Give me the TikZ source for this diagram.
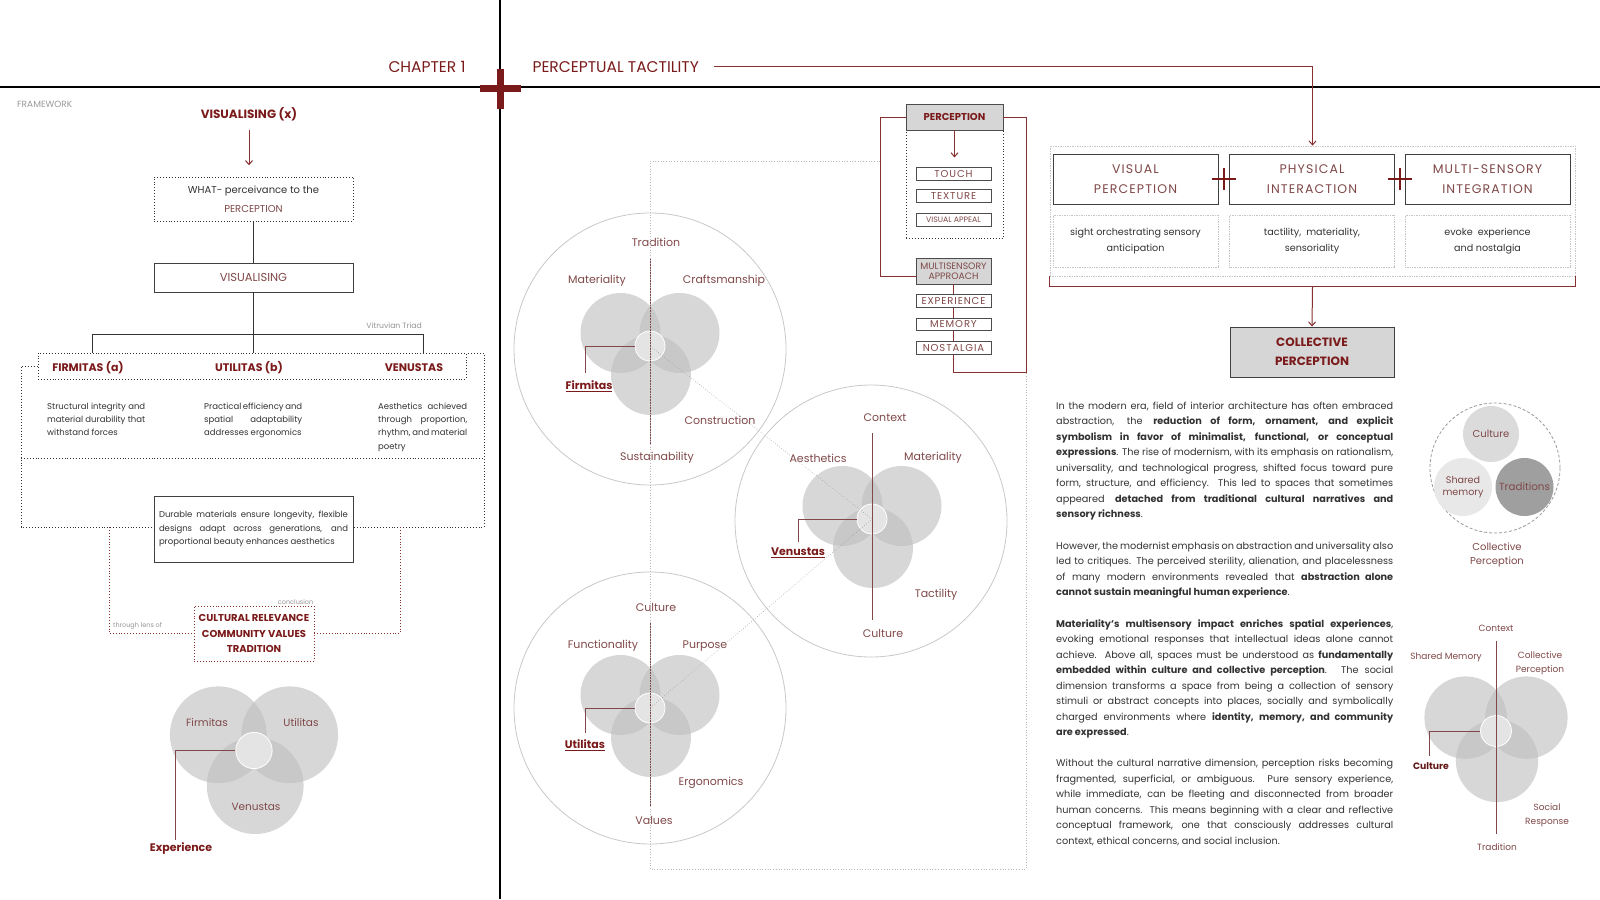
\documentclass[tikz,border=0pt]{standalone}
\usepackage{fontspec}
\setmainfont{Poppins}
\newfontfamily\spacedfont[LetterSpace=9]{Poppins}
\usetikzlibrary{arrows.meta,calc,positioning}

\definecolor{maroon}{RGB}{122,26,26}
\definecolor{linered}{RGB}{135,48,48}
\definecolor{softred}{RGB}{128,72,72}
\definecolor{bodygray}{RGB}{50,50,50}
\definecolor{ringgray}{RGB}{200,200,200}
\definecolor{lensgray}{RGB}{189,189,189}
\definecolor{coregray}{RGB}{228,228,228}
\definecolor{boxgray}{RGB}{214,214,214}

\newcommand{\fs}[2]{\fontsize{#1}{#2}\selectfont}

\tikzset{
  redline/.style={draw=linered, line width=1pt},
  redarrow/.style={redline, -{Straight Barb[length=4pt,width=7pt]}},
  treeline/.style={draw=black!80, line width=0.9pt},
  dotbox/.style={draw=black!80, dotted, line width=0.9pt},
  reddots/.style={draw=linered, dotted, line width=0.9pt},
  frameline/.style={draw=gray!55, dotted, line width=0.7pt},
  lightdots/.style={draw=gray!45, densely dotted, line width=0.7pt},
  solidbox/.style={draw=black!75, line width=0.9pt, fill=white},
  headred/.style={font=\bfseries\fs{11}{13}, text=maroon},
  titletext/.style={font=\fs{15.5}{17}, text=maroon},
  smallgray/.style={font=\fs{6.5}{8}, text=gray!85},
  desc/.style={font=\fs{8.5}{13.4}, text=bodygray, align=justify, inner sep=0pt, anchor=base west},
  para/.style={font=\fs{9.7}{15.5}, text=bodygray, text width=337pt, align=justify, inner sep=0pt, anchor=base west},
  ring/.style={draw=ringgray, line width=0.8pt},
  vennpart/.style={fill=lensgray, fill opacity=0.6},
  core/.style={circle, draw=white, line width=0.8pt, fill=coregray, inner sep=0pt},
  axisline/.style={draw=softred, line width=0.9pt},
  diagline/.style={draw=gray!75, dotted, line width=0.6pt},
  catlabel/.style={font=\fs{11}{13}, text=softred},
  keylabel/.style={font=\bfseries\fs{11}{13}, text=maroon},
  tagbox/.style={draw=black!70, line width=0.7pt, fill=white, minimum width=75pt, minimum height=12.5pt, inner sep=0pt, font=\spacedfont\fs{10}{10}, text=softred},
  pillar/.style={solidbox, minimum width=165pt, minimum height=50pt, align=center, font=\spacedfont\fs{12.5}{20}, text=softred},
  notebox/.style={lightdots, minimum width=165pt, minimum height=52pt, align=center, font=\fs{9.6}{16}, text=bodygray},
  crossline/.style={draw=maroon, line width=1.5pt},
}

% three overlapping lenses and their core
\newcommand{\venntrio}[4]{%
  \begin{scope}[shift={(#2,#3)}, scale=#4]
    \fill[vennpart] (-29.5,-13) circle[radius=40];
    \fill[vennpart] (29.5,-13) circle[radius=40];
    \fill[vennpart] (1,29) circle[radius=40];
  \end{scope}
  \node[core, minimum size=30*#4] (#1) at (#2,#3) {};
}

\begin{document}
\begin{tikzpicture}[x=1pt, y=-1pt]
\useasboundingbox (0,0) rectangle (1600,899);

% page rules and the title cross
\draw[line width=1.8pt] (0,87) -- (1600,87);
\draw[line width=1.8pt] (500,0) -- (500,899);
\fill[maroon] (480,84.5) rectangle (521,91.5);
\fill[maroon] (496.5,69) rectangle (503.5,109);
\node[titletext, anchor=east] (chap) at (469,67) {CHAPTER 1};
\node[titletext, anchor=west] (ptt) at (529,67) {PERCEPTUAL TACTILITY};

% ---------- left panel: framework ----------
\node[font=\fs{9}{10}, text=gray!80, anchor=west, inner sep=0pt] (fw) at (17,104) {FRAMEWORK};
\node[headred, font=\bfseries\fs{12}{14}] (visx) at (249,114) {VISUALISING (x)};
\draw[redarrow] ([yshift=-6pt]visx.south) -- ++(0,35);
\node[dotbox, minimum width=199pt, minimum height=44pt, align=center, font=\fs{10}{19}, text=bodygray] (what) at (253.5,199)
  {WHAT- perceivance to the\\\textcolor{softred}{PERCEPTION}};
\node[solidbox, minimum width=199pt, minimum height=29pt, font=\fs{11.5}{13}, text=softred] (vis) at (253.5,277.5) {VISUALISING};
\draw[treeline] (what.south) -- (vis.north);

\node[dotbox, minimum width=428pt, minimum height=26pt] (heads) at (252,366) {};
\node[headred] (firm) at (88,368) {FIRMITAS (a)};
\node[headred] (util) at (249,368) {UTILITAS (b)};
\node[headred] (venu) at (414,368) {VENUSTAS};
\coordinate (bl) at (92,334);
\coordinate (br) at (423,334);
\draw[treeline] (vis.south) -- (vis.south |- heads.north);
\draw[treeline] (bl |- heads.north) -- (bl) -- (br) -- (br |- heads.north);
\node[smallgray, font=\fs{7.7}{9}, anchor=south east, inner sep=1pt] (triad) at (423,330) {Vitruvian Triad};

% outer dotted frame
\draw[dotbox] (heads.west |- 0,366) -- (21,366) -- (21,527) -- (484,527) -- (484,353) -- (heads.east |- 0,353);
\draw[dotbox] (21,458) -- (484,458);

\node[desc, text width=98pt] (d1) at (47,409) {Structural integrity and\linebreak material durability that\linebreak withstand forces};
\node[desc, text width=98pt] (d2) at (204,409) {Practical efficiency and\linebreak spatial adaptability\linebreak addresses ergonomics};
\node[desc, text width=89pt] (d3) at (378,409) {Aesthetics achieved\linebreak through proportion,\linebreak rhythm, and material\linebreak poetry};

\node[solidbox, text width=189pt, inner sep=5pt, minimum height=66pt, align=justify, font=\fs{8.5}{13.5}, text=bodygray] (dur) at (253.5,529)
  {\hyphenpenalty=10000 Durable materials ensure longevity, flexible\linebreak designs adapt across generations, and\linebreak proportional beauty enhances aesthetics};

\node[reddots, minimum width=120pt, minimum height=55pt, align=center, font=\bfseries\fs{10}{15.5}, text=maroon] (cult) at (254,633.5)
  {CULTURAL RELEVANCE\\COMMUNITY VALUES\\TRADITION};
\coordinate (lensl) at (109,527);
\coordinate (lensr) at (400,527);
\draw[reddots] (lensl) |- (cult.west);
\draw[reddots] (lensr) |- (cult.east);
\node[smallgray, anchor=base west, inner sep=0pt] (lens) at (113,627) {through lens of};
\node[smallgray, anchor=south east, inner sep=1pt] (concl) at (cult.north east) {conclusion};

% vitruvian venn
\venntrio{ecore}{254}{750.5}{1.21}
\node[catlabel, font=\fs{10.5}{12}] (ef) at (207,723) {Firmitas};
\node[catlabel, font=\fs{10.5}{12}] (eu) at (301,723) {Utilitas};
\node[catlabel, font=\fs{10.5}{12}] (ev) at (256,807) {Venustas};
\node[keylabel] (exp) at (181,849) {Experience};
\draw[axisline] (ecore.west) -| ([xshift=-6pt]exp.north);

% ---------- middle panel ----------
\draw[ring] (650,349) circle[radius=136];
\draw[ring] (871,521) circle[radius=136];
\draw[ring] (650,708) circle[radius=136];
\venntrio{fcore}{650}{346}{1}
\venntrio{vcore}{872}{519}{1}
\venntrio{ucore}{650}{708}{1}

% firmitas
\node[catlabel] (ftop) at (656,242) {Tradition};
\node[catlabel] (fl) at (597,281) {Materiality};
\node[catlabel] (fr) at (724,281) {Craftsmanship};
\node[keylabel] (fkey) at (589,386) {\underline{Firmitas}};
\node[catlabel] (fc) at (720,420) {Construction};
\node[catlabel] (fbot) at (657,458) {Sustainability};
% venustas
\node[catlabel] (vtop) at (885,418) {Context};
\node[catlabel] (vl) at (818,458) {Aesthetics};
\node[catlabel] (vr) at (933,458) {Materiality};
\node[keylabel] (vkey) at (798,553) {\underline{Venustas}};
\node[catlabel] (vt) at (936,595) {Tactility};
\node[catlabel] (vbot) at (883,633) {Culture};
% utilitas
\node[catlabel] (utop) at (656,607) {Culture};
\node[catlabel] (ul) at (603,646) {Functionality};
\node[catlabel] (ur) at (705,646) {Purpose};
\node[keylabel] (ukey) at (585,745) {\underline{Utilitas}};
\node[catlabel] (ue) at (711,783) {Ergonomics};
\node[catlabel] (ubot) at (654,820) {Values};

\draw[axisline, shorten <=8pt, shorten >=5pt] (ftop.south -| fcore) -- (fbot.north -| fcore);
\draw[axisline, shorten <=8pt, shorten >=5pt] (vtop.south -| vcore) -- (vbot.north -| vcore);
\draw[axisline, shorten <=8pt, shorten >=5pt] (utop.south -| ucore) -- (ubot.north -| ucore);
\draw[axisline, shorten >=4pt] (fcore.west) -| ([xshift=-4pt]fkey.north);
\draw[axisline, shorten >=3pt] (vcore.west) -| (vkey.north);
\draw[axisline, shorten >=3pt] (ucore.west) -| (ukey.north);
\draw[diagline] (fcore.center) -- (vcore.center) -- (ucore.center);

% perception column
\node[dotbox, minimum width=97pt, minimum height=108pt] (sens) at (954.5,184) {};
\node[draw=black!70, line width=0.9pt, fill=boxgray, minimum width=97pt, minimum height=26pt, font=\bfseries\fs{10}{11}, text=maroon] (perc) at (954.5,117) {PERCEPTION};
\draw[redarrow] (perc.south) -- ++(0,27);
\node[tagbox] (touch) at (953.5,174) {TOUCH};
\node[tagbox] (texture) at (953.5,196) {TEXTURE};
\node[tagbox, font=\fs{7.8}{8}] (appeal) at (953.5,220) {VISUAL APPEAL};
\node[tagbox, fill=boxgray, minimum height=26pt, align=center, font=\fs{9.3}{10.5}] (multi) at (953.5,271) {MULTISENSORY\\APPROACH};
\node[tagbox] (exper) at (953.5,301) {EXPERIENCE};
\node[tagbox] (memory) at (953.5,324.5) {MEMORY};
\node[tagbox] (nostal) at (953.5,348) {NOSTALGIA};
\draw[redline] (multi.south) -- (exper.north);
\draw[redline] (exper.south) -- (memory.north);
\draw[redline] (memory.south) -- (nostal.north);
\coordinate (loopl) at (880,117);
\coordinate (loopr) at (1026,372);
\draw[redline] (perc.west) -- (loopl) |- ([yshift=-5pt]multi.west);
\draw[redline] (perc.east) -| (loopr) -| (nostal.south);
\draw[frameline] (loopl |- 0,161) -- (650,161) -- (650,869) -- (1026,869) -- (loopr);

% ---------- right panel ----------
\node[lightdots, minimum width=525pt, minimum height=130pt] (rsec) at (1312.5,211) {};
\draw[redarrow] ([xshift=12pt]ptt.east) -| (rsec.north);
\node[pillar] (pvis) at (1135.5,179) {VISUAL\\PERCEPTION};
\node[pillar] (pphy) at (1312,179) {PHYSICAL\\INTERACTION};
\node[pillar] (pmul) at (1487.5,179) {MULTI-SENSORY\\INTEGRATION};
\node[notebox] (nvis) at (1135.5,241) {sight orchestrating sensory\\anticipation};
\node[notebox] (nphy) at (1312,241) {tactility,~ materiality,\\sensoriality};
\node[notebox] (nmul) at (1487.5,241) {evoke~ experience\\and nostalgia};
\coordinate (plus1) at ($(pvis.east)!0.5!(pphy.west)$);
\coordinate (plus2) at ($(pphy.east)!0.5!(pmul.west)$);
\draw[crossline] ($(plus1)+(-12,0)$) -- ($(plus1)+(12,0)$);
\draw[crossline] ($(plus1)+(0,-11)$) -- ($(plus1)+(0,11)$);
\draw[crossline] ($(plus2)+(-12,0)$) -- ($(plus2)+(12,0)$);
\draw[crossline] ($(plus2)+(0,-11)$) -- ($(plus2)+(0,11)$);

\node[solidbox, fill=boxgray, minimum width=164pt, minimum height=50pt, align=center, font=\bfseries\fs{12}{19}, text=maroon] (coll) at (1312,352) {COLLECTIVE\\PERCEPTION};
\draw[redline] (rsec.south west) -- ++(0,10) -| (rsec.south east);
\coordinate (rsmid) at ($(rsec.south)+(0,10)$);
\draw[redarrow] (rsmid) -- (coll.north);

% text column
\node[para] (para1) at (1056,409) {In the modern era, field of interior architecture has often embraced\linebreak
abstraction, the \textbf{reduction of form, ornament, and explicit}\linebreak
\textbf{symbolism in favor of minimalist, functional, or conceptual}\linebreak
\textbf{expressions}. The rise of modernism, with its emphasis on rationalism,\linebreak
universality, and technological progress, shifted focus toward pure\linebreak
form, structure, and efficiency. This led to spaces that sometimes\linebreak
appeared \textbf{detached from traditional cultural narratives and}\linebreak
\textbf{sensory richness}.};
\node[para] (para2) at (1056,549) {However, the modernist emphasis on abstraction and universality also\linebreak
led to critiques. The perceived sterility, alienation, and placelessness\linebreak
of many modern environments revealed that \textbf{abstraction alone}\linebreak
\textbf{cannot sustain meaningful human experience}.};
\node[para] (para3) at (1056,627.3) {\textbf{Materiality's multisensory impact enriches spatial experiences},\linebreak
evoking emotional responses that intellectual ideas alone cannot\linebreak
achieve. Above all, spaces must be understood as \textbf{fundamentally}\linebreak
\textbf{embedded within culture and collective perception}. The social\linebreak
dimension transforms a space from being a collection of sensory\linebreak
stimuli or abstract concepts into places, socially and symbolically\linebreak
charged environments where \textbf{identity, memory, and community}\linebreak
\textbf{are expressed}.};
\node[para] (para4) at (1056,766.7) {Without the cultural narrative dimension, perception risks becoming\linebreak
fragmented, superficial, or ambiguous. Pure sensory experience,\linebreak
while immediate, can be fleeting and disconnected from broader\linebreak
human concerns. This means beginning with a clear and reflective\linebreak
conceptual framework, one that consciously addresses cultural\linebreak
context, ethical concerns, and social inclusion.};

% collective perception cluster
\draw[draw=gray!80, densely dashed, line width=0.8pt] (1495,468) circle[radius=65];
\node[circle, fill=gray!28, minimum size=56pt, inner sep=0pt, font=\fs{10}{11}, text=softred] (cculture) at (1491,434) {Culture};
\node[circle, fill=gray!18, minimum size=58pt, inner sep=0pt, align=center, font=\fs{9.6}{12}, text=softred] (cshared) at (1463,487) {Shared\\memory};
\node[circle, fill=gray!75, minimum size=58pt, inner sep=0pt, font=\fs{10.3}{11}, text=softred] (ctrad) at (1524.5,487) {Traditions};
\node[catlabel, align=center, font=\fs{10}{14}] (cpcap) at (1497,555) {Collective\\Perception};

% social venn
\venntrio{rcore}{1496}{731}{1.03}
\node[catlabel, font=\fs{9}{10}] (rtop) at (1496,628) {Context};
\node[catlabel, font=\fs{9}{10}] (rl) at (1446,657) {Shared Memory};
\node[catlabel, align=center, font=\fs{9}{14}] (rr) at (1540,663) {Collective\\Perception};
\node[keylabel, font=\bfseries\fs{9.3}{10}, text=maroon!80!black] (rkey) at (1431,766) {Culture};
\node[catlabel, align=center, font=\fs{9}{14}] (rs) at (1547,815) {Social\\Response};
\node[catlabel, font=\fs{9}{10}] (rbot) at (1497,847) {Tradition};
\draw[axisline, shorten <=6pt, shorten >=6pt] (rtop.south -| rcore) -- (rbot.north -| rcore);
\draw[axisline, shorten >=3pt] (rcore.west) -| ([xshift=-2pt]rkey.north);
\end{tikzpicture}
\end{document}
